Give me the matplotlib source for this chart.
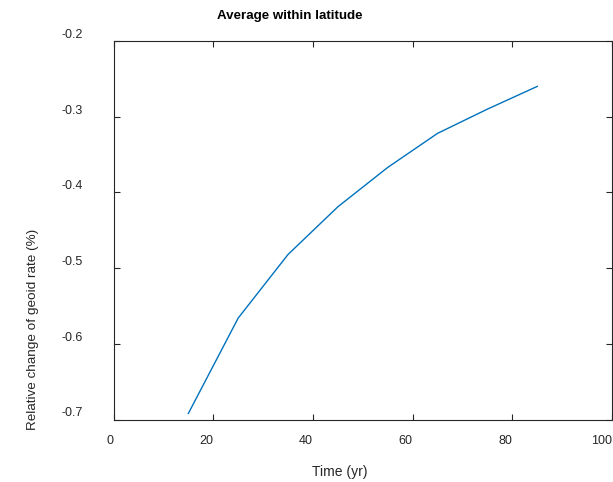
import matplotlib
matplotlib.use("Agg")
import matplotlib.pyplot as plt

time_yr = [15, 25, 35, 45, 55, 65, 75, 85]
rel_change = [-0.692, -0.566, -0.482, -0.419, -0.367, -0.322, -0.290, -0.260]
xticks = [0, 20, 40, 60, 80, 100]
yticks = [-0.7, -0.6, -0.5, -0.4, -0.3, -0.2]
ytick_labels = ["-0.7", "-0.6", "-0.5", "-0.4", "-0.3", "-0.2"]

plt.rcParams['font.family'] = ['Liberation Sans', 'DejaVu Sans']

W, H = 613, 482
fig = plt.figure(figsize=(W / 100, H / 100), dpi=100)
ax = fig.add_axes([113.6 / W, 1 - 419.5 / H, (612 - 113.6) / W, (419.5 - 41) / H])

ax.plot(time_yr, rel_change, color='#0072BD', lw=1.0)
ax.set_xlim(0, 100)
ax.set_ylim(-0.7, -0.2)
ax.set_xticks(xticks)
ax.set_xticklabels([str(v) for v in xticks])
ax.set_yticks(yticks)
ax.set_yticklabels(ytick_labels)

for s in ax.spines.values():
    s.set_color('#262626')
    s.set_linewidth(0.8)
ax.tick_params(direction='in', top=True, right=True, length=4, width=0.8,
               color='#262626', labelsize=9, labelcolor='#262626')
ax.tick_params(axis='x', pad=11)
ax.tick_params(axis='y', pad=22)
plt.setp(ax.get_xticklabels(), ha='right')
plt.setp(ax.get_yticklabels(), va='bottom')

fig.text(362.8 / W, 1 - 15.5 / H, "Average within latitude", ha='right', va='center',
         fontsize=9.6, fontweight='bold', color='black')
fig.text(340 / W, 1 - 472 / H, "Time (yr)", ha='center', va='center',
         fontsize=10, color='#262626')
fig.text(33 / W, 1 - 329.5 / H, "Relative change of geoid rate (%)", ha='center',
         va='center', rotation=90, fontsize=9.7, color='#262626')

fig.savefig("out.png", dpi=100, facecolor='white')
